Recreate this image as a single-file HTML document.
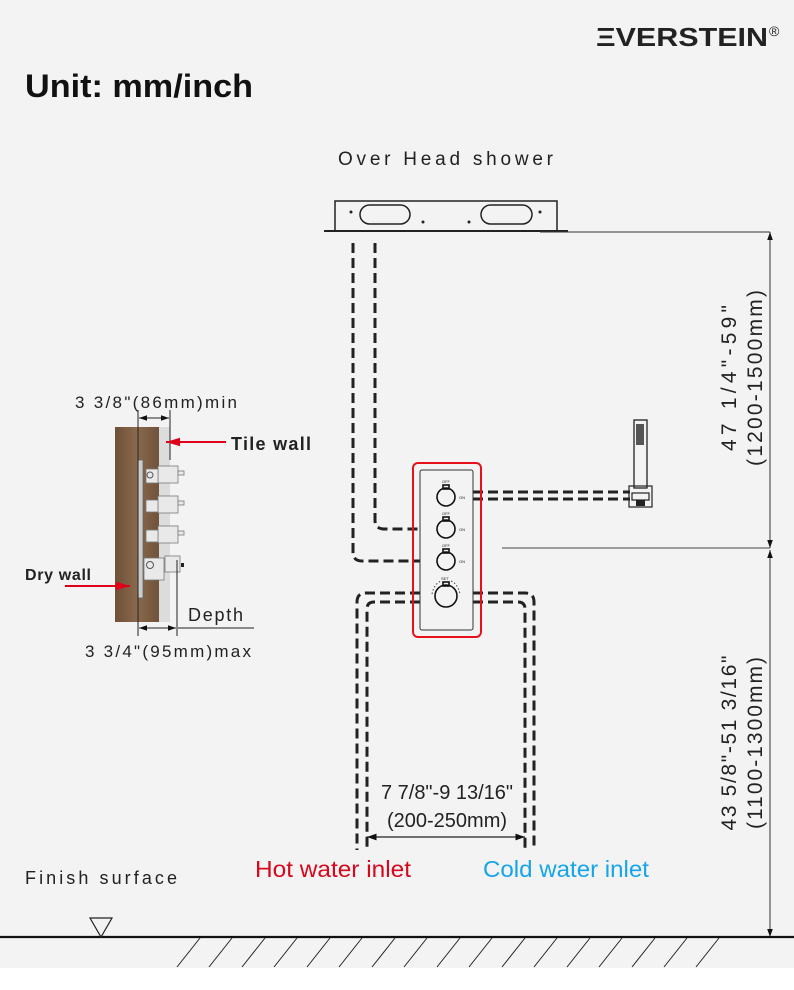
<!DOCTYPE html>
<html><head><meta charset="utf-8"><style>
html,body{margin:0;padding:0;background:#f3f3f3}
svg{display:block}
text{font-family:"Liberation Sans",sans-serif}
</style></head><body>
<svg width="794" height="990" viewBox="0 0 794 990" xmlns="http://www.w3.org/2000/svg">
<defs>
<marker id="ah" viewBox="0 0 10 10" refX="10" refY="5" markerWidth="8" markerHeight="8" orient="auto-start-reverse"><path d="M0,1.5 L10,5 L0,8.5 z" fill="#111"/></marker>
<marker id="rh" viewBox="0 0 10 10" refX="10" refY="5" markerWidth="7" markerHeight="7" orient="auto"><path d="M0,2 L10,5 L0,8 z" fill="#e0001a"/></marker>
<linearGradient id="wood" x1="0" x2="1"><stop offset="0" stop-color="#6e5038"/><stop offset="0.5" stop-color="#8a6a4d"/><stop offset="1" stop-color="#6f523a"/></linearGradient>
</defs>
<rect width="794" height="990" fill="#f3f3f3"/>
<rect y="968" width="794" height="22" fill="#fff"/>

<text x="25" y="97" font-size="32" font-weight="bold" fill="#111" textLength="228" lengthAdjust="spacingAndGlyphs">Unit: mm/inch</text>
<text x="596" y="46" font-size="26" font-weight="bold" fill="#222" textLength="172" lengthAdjust="spacingAndGlyphs">ΞVERSTEIN</text>
<text x="769" y="36" font-size="14" fill="#222">®</text>

<text x="338" y="165" font-size="19" fill="#222" textLength="215">Over Head shower</text>
<!-- overhead plate -->
<rect x="335" y="201" width="222" height="30" fill="none" stroke="#222" stroke-width="1.5"/>
<line x1="324" y1="231" x2="568" y2="231" stroke="#222" stroke-width="2"/>
<rect x="360" y="205" width="50" height="19" rx="9.5" fill="none" stroke="#222" stroke-width="1.5"/>
<rect x="481" y="205" width="51" height="19" rx="9.5" fill="none" stroke="#222" stroke-width="1.5"/>
<circle cx="351" cy="212" r="1.5" fill="#222"/><circle cx="423" cy="222" r="1.5" fill="#222"/><circle cx="469" cy="222" r="1.5" fill="#222"/><circle cx="540" cy="212" r="1.5" fill="#222"/>
<line x1="540" y1="232" x2="770" y2="232" stroke="#333" stroke-width="1"/>

<!-- vertical dimension -->
<line x1="770" y1="232" x2="770" y2="548" stroke="#333" stroke-width="1" marker-start="url(#ah)" marker-end="url(#ah)"/>
<line x1="770" y1="550" x2="770" y2="937" stroke="#333" stroke-width="1" marker-start="url(#ah)" marker-end="url(#ah)"/>
<line x1="502" y1="548" x2="770" y2="548" stroke="#444" stroke-width="1"/>
<g font-size="21" fill="#222" text-anchor="middle">
<text transform="translate(736,378) rotate(-90)" textLength="146">47 1/4"-59"</text>
<text transform="translate(762,378) rotate(-90)" textLength="176">(1200-1500mm)</text>
<text transform="translate(736,743) rotate(-90)" textLength="175">43 5/8"-51  3/16"</text>
<text transform="translate(762,743) rotate(-90)" textLength="172">(1100-1300mm)</text>
</g>

<!-- dashed pipes -->
<g fill="none" stroke="#222" stroke-width="3" stroke-dasharray="10,5">
<path d="M353,243 V552 Q353,561 362,561 H420"/>
<path d="M375,243 V520 Q375,529 384,529 H420"/>
<path d="M473,492 H630"/><path d="M473,499 H630"/>
<path d="M420,593 H366 Q357,593 357,602 V850"/>
<path d="M420,602 H374 Q367,602 367,609 V850"/>
<path d="M473,593 H525 Q534,593 534,602 V850"/>
<path d="M473,602 H518 Q525,602 525,609 V850"/>
</g>

<!-- valve -->
<rect x="413" y="463" width="68" height="174" rx="5" fill="none" stroke="#e8101a" stroke-width="2"/>
<rect x="420" y="470" width="53" height="160" rx="2" fill="#f3f3f3" stroke="#333" stroke-width="1"/>
<g fill="none" stroke="#111" stroke-width="1.6">
<circle cx="446" cy="497" r="9"/><circle cx="446" cy="529" r="9"/><circle cx="446" cy="561" r="9"/><circle cx="446" cy="596" r="11"/>
<rect x="443" y="485" width="6" height="4"/><rect x="443" y="517" width="6" height="4"/><rect x="443" y="549" width="6" height="4"/><rect x="443" y="582" width="6" height="4"/>
</g>
<g font-size="4" fill="#222"><text x="442" y="483">OFF</text><text x="459" y="499">ON</text><text x="442" y="515">OFF</text><text x="459" y="531">ON</text><text x="442" y="547">OFF</text><text x="459" y="563">ON</text><text x="441" y="580">SET</text></g>
<path d="M432,594 Q434,584 441,581 M451,581 Q458,584 460,594" fill="none" stroke="#444" stroke-width="1" stroke-dasharray="1.5,2"/>

<!-- hand shower -->
<rect x="634" y="420" width="13" height="68" fill="#f3f3f3" stroke="#222" stroke-width="1.3"/>
<rect x="636" y="424" width="8" height="21" fill="#555"/>
<rect x="629" y="486" width="23" height="21" fill="none" stroke="#222" stroke-width="1.2"/>
<rect x="632" y="493" width="17" height="7" fill="none" stroke="#222" stroke-width="1.2"/>
<rect x="636" y="500" width="9" height="6" fill="#222"/>

<!-- bottom dimension -->
<g font-size="20" fill="#222" text-anchor="middle"><text x="447" y="799">7 7/8"-9 13/16"</text><text x="447" y="827">(200-250mm)</text></g>
<line x1="367" y1="837" x2="525" y2="837" stroke="#222" stroke-width="1.2" marker-start="url(#ah)" marker-end="url(#ah)"/>
<text x="255" y="877" font-size="23" fill="#d5081e" textLength="156" lengthAdjust="spacingAndGlyphs">Hot water inlet</text>
<text x="483" y="877" font-size="23" fill="#15a5e8" textLength="166" lengthAdjust="spacingAndGlyphs">Cold water inlet</text>
<text x="25" y="884" font-size="18" fill="#222" textLength="152">Finish surface</text>

<!-- ground -->
<line x1="0" y1="937" x2="794" y2="937" stroke="#111" stroke-width="2.2"/>
<path d="M90,918 H112 L101,937 Z" fill="none" stroke="#222" stroke-width="1.2"/>
<g stroke="#222" stroke-width="1">
<path d="M200,938 L177,967 M232,938 L209,967 M265,938 L242,967 M297,938 L274,967 M330,938 L307,967 M362,938 L339,967 M395,938 L372,967 M427,938 L404,967 M460,938 L437,967 M492,938 L469,967 M525,938 L502,967 M557,938 L534,967 M590,938 L567,967 M622,938 L599,967 M655,938 L632,967 M687,938 L664,967 M719,938 L696,967"/>
</g>

<!-- wall section -->
<rect x="115" y="427" width="44" height="195" fill="url(#wood)"/>
<rect x="159" y="427" width="11" height="195" fill="#dcdcdc"/>
<rect x="138" y="460" width="5" height="138" fill="#ccc" stroke="#666" stroke-width="0.8"/>
<g fill="#e9e9e9" stroke="#777" stroke-width="0.8">
<rect x="158" y="466" width="20" height="17"/><rect x="158" y="496" width="20" height="17"/><rect x="158" y="526" width="20" height="17"/><rect x="165" y="556" width="15" height="16"/>
<rect x="146" y="469" width="12" height="14"/><rect x="146" y="500" width="12" height="12"/><rect x="146" y="530" width="12" height="12"/><rect x="144" y="558" width="20" height="22"/>
<rect x="178" y="471" width="6" height="4"/><rect x="178" y="501" width="6" height="4"/><rect x="178" y="531" width="6" height="4"/>
</g>
<rect x="181" y="563" width="3" height="4" fill="#222"/>
<circle cx="150" cy="475" r="3" fill="none" stroke="#555"/><circle cx="150" cy="565" r="3.5" fill="none" stroke="#555"/>
<g stroke="#222" stroke-width="1">
<line x1="138" y1="410" x2="138" y2="636"/><line x1="170" y1="410" x2="170" y2="460"/><line x1="177" y1="560" x2="177" y2="636"/>
<line x1="178" y1="628" x2="254" y2="628"/>
</g>
<line x1="139" y1="418" x2="169" y2="418" stroke="#222" stroke-width="1" marker-start="url(#ah)" marker-end="url(#ah)"/>
<line x1="139" y1="628" x2="176" y2="628" stroke="#222" stroke-width="1" marker-start="url(#ah)" marker-end="url(#ah)"/>
<text x="75" y="408" font-size="17" fill="#222" textLength="162">3 3/8"(86mm)min</text>
<text x="85" y="657" font-size="17" fill="#222" textLength="166">3 3/4"(95mm)max</text>
<text x="188" y="621" font-size="18" fill="#222" textLength="55">Depth</text>
<text x="231" y="450" font-size="18" font-weight="bold" fill="#222" textLength="80">Tile wall</text>
<line x1="226" y1="442" x2="166" y2="442" stroke="#e0001a" stroke-width="2" marker-end="url(#rh)"/>
<text x="25" y="580" font-size="16" font-weight="bold" fill="#222" textLength="66">Dry wall</text>
<line x1="65" y1="586" x2="130" y2="586" stroke="#e0001a" stroke-width="2" marker-end="url(#rh)"/>
</svg>
</body></html>
